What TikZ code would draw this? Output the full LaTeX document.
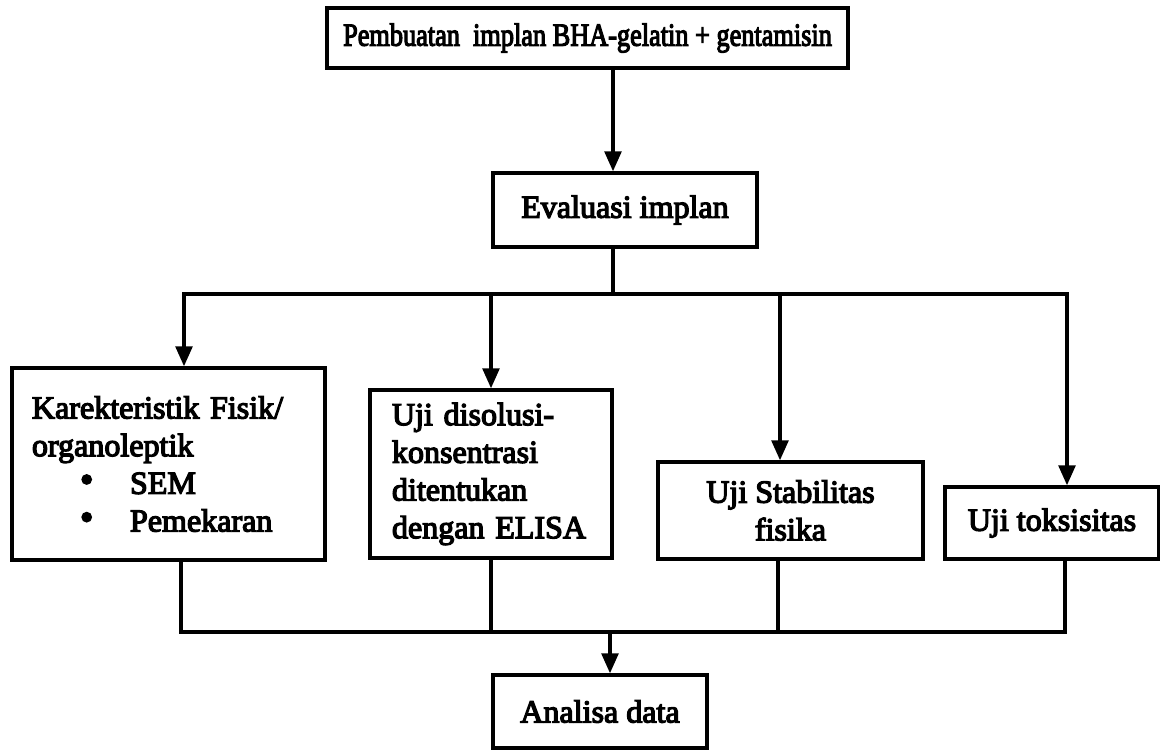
\documentclass[tikz,border=0pt]{standalone}
\usepackage{fontspec}
\setmainfont{Liberation Serif}[FakeBold=4]
\usetikzlibrary{positioning}
\usetikzlibrary{arrows.meta}
\newcommand{\bigbullet}{\raisebox{0.05em}{\scalebox{1.2}{\textbullet}}}

\begin{document}
\begin{tikzpicture}[x=0.025cm,y=-0.025cm,>={Triangle[length=0.5cm,width=0.42cm]},
                    line width=2.4pt,line cap=rect,
                    font=\fontsize{22.8}{26.8}\selectfont,
                    box/.style={draw,rectangle,inner sep=0pt,align=center}]
\useasboundingbox (0,0) rectangle (1160,750);
\node[box,minimum width=13.025cm,minimum height=1.5cm] (pembuatan) at (587.5,38)
      {\scalebox{0.82}[1]{Pembuatan\ \ implan BHA-gelatin + gentamisin}};
\node[box,minimum width=6.6cm,minimum height=1.85cm] (evaluasi) at (625,210) {Evaluasi implan};
\node[box,align=left,text width=6.825cm,inner xsep=0.5cm,minimum height=4.8cm] (fisik) at (168.5,464)
      {Karekteristik Fisik/\\organoleptik\\
       \makebox[2.45cm][l]{\hspace*{1.2cm}\bigbullet}SEM\\
       \makebox[2.45cm][l]{\hspace*{1.2cm}\bigbullet}Pemekaran};
\node[box,align=left,text width=4.95cm,inner xsep=0.55cm,minimum height=4.2cm] (disolusi) at (491,474)
      {Uji disolusi-\\konsentrasi\\ditentukan\\dengan ELISA};
\node[box,minimum width=6.625cm,minimum height=2.425cm] (stabil) at (790.5,510.5) {Uji Stabilitas\\fisika};
\node[box,minimum width=5.35cm,minimum height=1.8cm] (toksik) at (1052,523) {Uji toksisitas};
\node[box,minimum width=5.35cm,minimum height=1.825cm] (analisa) at (600,711.5) {Analisa data};
\coordinate (spine) at (613,294);
\coordinate (d1) at (184,294);
\coordinate (d2) at (491,294);
\coordinate (d3) at (780,294);
\coordinate (d4) at (1067,294);
\coordinate (u1) at (181,632);
\coordinate (u2) at (491,632);
\coordinate (u3) at (778,632);
\coordinate (u4) at (1065,632);
\coordinate (sum) at (610,632);
\draw[->] (pembuatan.south -| spine) -- (evaluasi.north -| spine);
\draw (evaluasi.south -| spine) -- (spine);
\draw (d1) -- (d4);
\foreach \d/\b in {d1/fisik,d2/disolusi,d3/stabil,d4/toksik}
   \draw[->] (\d) -- (\d |- \b.north);
\foreach \u/\b in {u1/fisik,u2/disolusi,u3/stabil,u4/toksik}
   \draw (\u |- \b.south) -- (\u);
\draw (u1) -- (u4);
\draw[->] (sum) -- (sum |- analisa.north);
\end{tikzpicture}
\end{document}
